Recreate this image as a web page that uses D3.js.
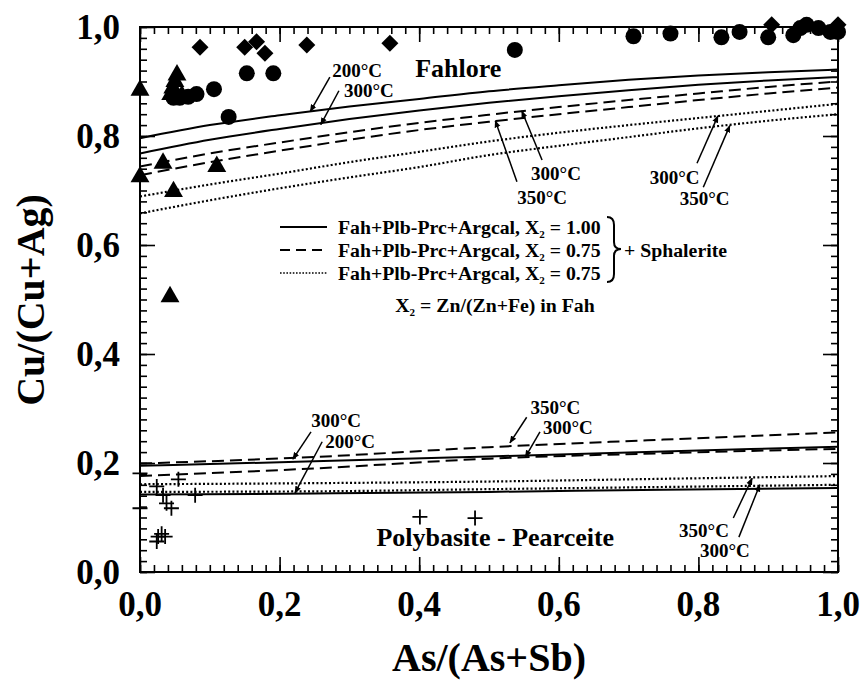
<!DOCTYPE html>
<html>
<head>
<meta charset="utf-8">
<script src="https://cdn.jsdelivr.net/npm/d3@7"></script>
<style>
  html, body { margin: 0; padding: 0; background: #fff; }
  svg { display: block; font-family: "Liberation Serif", "Times New Roman", serif; font-weight: bold; }
</style>
</head>
<body>
<svg id="chart" width="865" height="687"></svg>
<script>
// ---- data ----------------------------------------------------------------
const majorTicks = [0, 0.2, 0.4, 0.6, 0.8, 1.0];
const minorTicks = d3.range(0, 1.0001, 0.02);

// Fahlore compositions (x = As/(As+Sb), y = Cu/(Cu+Ag))
const diamondX = [0.086, 0.150, 0.167, 0.179, 0.239, 0.358, 0.905, 1.000];
const diamondY = [0.963, 0.963, 0.973, 0.952, 0.967, 0.970, 1.004, 1.004];

const circleX = [0.153, 0.191, 0.106, 0.081, 0.069, 0.057, 0.048, 0.127, 0.537,
                 0.707, 0.760, 0.833, 0.859, 0.900, 0.936, 0.946, 0.955, 0.972, 0.989, 1.000];
const circleY = [0.915, 0.915, 0.886, 0.877, 0.872, 0.870, 0.870, 0.835, 0.958,
                 0.983, 0.988, 0.981, 0.991, 0.981, 0.985, 0.998, 1.004, 0.998, 0.991, 0.991];

const triangleX = [0.000, 0.053, 0.050, 0.047, 0.044, 0.060, 0.033, 0.110, 0.000, 0.048, 0.043];
const triangleY = [0.884, 0.912, 0.900, 0.888, 0.876, 0.874, 0.750, 0.744, 0.725, 0.698, 0.505];

// Polybasite - pearceite compositions
const plusX = [0.024, 0.055, 0.033, 0.038, 0.045, 0.079, 0.026, 0.036, 0.024, 0.031, 0.000, 0.000, 0.401, 0.480];
const plusY = [0.157, 0.170, 0.141, 0.126, 0.117, 0.141, 0.065, 0.065, 0.056, 0.070, 0.181, 0.117, 0.101, 0.099];

// Calculated equilibrium curves, fahlore side
const fahX = [0, 0.1, 0.2, 0.3, 0.4, 0.5, 0.6, 0.7, 0.8, 0.9, 1.0];
const fahSolid200  = [0.796, 0.820, 0.838, 0.854, 0.868, 0.882, 0.893, 0.903, 0.911, 0.917, 0.922];
const fahSolid300  = [0.768, 0.793, 0.813, 0.831, 0.847, 0.861, 0.873, 0.884, 0.894, 0.902, 0.908];
const fahDashed300 = [0.744, 0.768, 0.788, 0.807, 0.824, 0.839, 0.853, 0.866, 0.878, 0.890, 0.900];
const fahDashed350 = [0.728, 0.752, 0.773, 0.793, 0.811, 0.826, 0.840, 0.853, 0.866, 0.878, 0.889];
const fahDotted300 = [0.689, 0.711, 0.731, 0.752, 0.771, 0.790, 0.806, 0.820, 0.833, 0.846, 0.859];
const fahDotted350 = [0.658, 0.682, 0.704, 0.724, 0.743, 0.765, 0.782, 0.798, 0.814, 0.828, 0.840];

// Calculated equilibrium curves, polybasite side
const plbX = [0, 0.25, 0.5, 0.75, 1.0];
const plbSolid300  = [0.195, 0.203, 0.212, 0.221, 0.230];
const plbSolid200  = [0.142, 0.144, 0.147, 0.151, 0.154];
const plbDashed350 = [0.199, 0.211, 0.229, 0.243, 0.256];
const plbDashed300 = [0.176, 0.190, 0.208, 0.218, 0.226];
const plbDotted350 = [0.161, 0.163, 0.166, 0.171, 0.176];
const plbDotted300 = [0.147, 0.148, 0.152, 0.156, 0.160];

// Temperature labels: text position and leader from (x1,y1) to (x2,y2)
const tempText = ["200°C", "300°C", "300°C", "350°C", "300°C", "350°C",
                  "300°C", "200°C", "350°C", "300°C", "350°C", "300°C"];
const tempTx = [0.311, 0.328, 0.596, 0.576, 0.766, 0.809, 0.281, 0.301, 0.595, 0.613, 0.808, 0.838];
const tempTy = [0.921, 0.884, 0.732, 0.688, 0.725, 0.686, 0.279, 0.239, 0.303, 0.266, 0.077, 0.040];
const tempX1 = [0.272, 0.285, 0.576, 0.540, 0.798, 0.807, 0.245, 0.261, 0.554, 0.573, 0.850, 0.858];
const tempY1 = [0.908, 0.883, 0.756, 0.716, 0.750, 0.706, 0.257, 0.239, 0.284, 0.257, 0.099, 0.064];
const tempX2 = [0.244, 0.259, 0.547, 0.509, 0.828, 0.845, 0.219, 0.222, 0.530, 0.552, 0.877, 0.888];
const tempY2 = [0.845, 0.821, 0.846, 0.828, 0.837, 0.819, 0.207, 0.145, 0.237, 0.211, 0.172, 0.160];

const legendLabels = ["1.00", "0.75", "0.75"];

// ---- layout ---------------------------------------------------------------
const svg = d3.select("#chart");
const x = d3.scaleLinear().domain([0, 1]).range([140, 838]);
const y = d3.scaleLinear().domain([0, 1]).range([572, 27]);
const fmt = d => d3.format(".1f")(d).replace(".", ",");

// ---- curves ---------------------------------------------------------------
const line = d3.line().x(d => x(d[0])).y(d => y(d[1])).curve(d3.curveMonotoneX);
const styles = {
  solid:  { dash: null,    w: 2 },
  dashed: { dash: "12,6",  w: 2 },
  dotted: { dash: "2,2.2", w: 2.2 }
};
const curves = [
  [fahX, fahSolid200, "solid"], [fahX, fahSolid300, "solid"],
  [fahX, fahDashed300, "dashed"], [fahX, fahDashed350, "dashed"],
  [fahX, fahDotted300, "dotted"], [fahX, fahDotted350, "dotted"],
  [plbX, plbSolid300, "solid"], [plbX, plbSolid200, "solid"],
  [plbX, plbDashed350, "dashed"], [plbX, plbDashed300, "dashed"],
  [plbX, plbDotted350, "dotted"], [plbX, plbDotted300, "dotted"]
];
svg.append("g").selectAll("path").data(curves).join("path")
  .attr("d", c => line(c[0].map((v, i) => [v, c[1][i]])))
  .attr("fill", "none").attr("stroke", "#000")
  .attr("stroke-width", c => styles[c[2]].w)
  .attr("stroke-dasharray", c => styles[c[2]].dash);

// ---- frame and ticks --------------------------------------------------------
function ticks(axisFn, scale, values, size) {
  return axisFn(scale).tickValues(values).tickSizeInner(-size).tickSizeOuter(0).tickFormat("");
}
const axes = [
  [d3.axisBottom, x, "translate(0,572)"],
  [d3.axisTop, x, "translate(0,27)"],
  [d3.axisLeft, y, "translate(140,0)"],
  [d3.axisRight, y, "translate(838,0)"]
];
axes.forEach(([fn, sc, tr]) => {
  const gMinor = svg.append("g").attr("transform", tr).call(ticks(fn, sc, minorTicks, 7));
  const gMajor = svg.append("g").attr("transform", tr).call(ticks(fn, sc, majorTicks, 15));
  [gMinor, gMajor].forEach(g => {
    g.select(".domain").remove();
    g.selectAll("line").attr("stroke", "#000").attr("stroke-width", 1.6);
  });
});
svg.append("rect").attr("x", x(0)).attr("y", y(1))
  .attr("width", x(1) - x(0)).attr("height", y(0) - y(1))
  .attr("fill", "none").attr("stroke", "#000").attr("stroke-width", 2);

// tick labels
svg.append("g").selectAll("text").data(majorTicks).join("text")
  .attr("x", d => x(d)).attr("y", 604).attr("dy", "0.35em")
  .attr("text-anchor", "middle").attr("font-size", 35).text(fmt);
svg.append("g").selectAll("text").data(majorTicks).join("text")
  .attr("x", 120).attr("y", d => y(d)).attr("dy", "0.35em")
  .attr("text-anchor", "end").attr("font-size", 35).text(fmt);

// axis titles
svg.append("text").attr("x", 489).attr("y", 657).attr("dy", "0.35em")
  .attr("text-anchor", "middle").attr("font-size", 40).text("As/(As+Sb)");
svg.append("text").attr("transform", "translate(30,300) rotate(-90)").attr("dy", "0.35em")
  .attr("text-anchor", "middle").attr("font-size", 40).text("Cu/(Cu+Ag)");

// ---- leaders and temperature labels ------------------------------------------
svg.append("defs").append("marker")
  .attr("id", "tip").attr("viewBox", "0 0 10 10").attr("refX", 9).attr("refY", 5)
  .attr("markerWidth", 5).attr("markerHeight", 5).attr("orient", "auto")
  .append("path").attr("d", "M0,1 L10,5 L0,9 Z").attr("fill", "#000");
const idx = d3.range(tempText.length);
svg.append("g").selectAll("line").data(idx).join("line")
  .attr("x1", i => x(tempX1[i])).attr("y1", i => y(tempY1[i]))
  .attr("x2", i => x(tempX2[i])).attr("y2", i => y(tempY2[i]))
  .attr("stroke", "#000").attr("stroke-width", 1.5).attr("marker-end", "url(#tip)");
svg.append("g").selectAll("text").data(idx).join("text")
  .attr("x", i => x(tempTx[i])).attr("y", i => y(tempTy[i])).attr("dy", "0.35em")
  .attr("text-anchor", "middle").attr("font-size", 19).text(i => tempText[i]);

// region labels
svg.append("text").attr("x", x(0.456)).attr("y", y(0.925)).attr("dy", "0.35em")
  .attr("text-anchor", "middle").attr("font-size", 26).text("Fahlore");
svg.append("text").attr("x", x(0.509)).attr("y", y(0.064)).attr("dy", "0.35em")
  .attr("text-anchor", "middle").attr("font-size", 26).text("Polybasite - Pearceite");

// ---- markers ---------------------------------------------------------------
const markers = svg.append("g");
markers.selectAll(".circ").data(circleX.map((v, i) => [v, circleY[i]])).join("circle")
  .attr("cx", d => x(d[0])).attr("cy", d => y(d[1])).attr("r", 8).attr("fill", "#000");
markers.selectAll(".dia").data(diamondX.map((v, i) => [v, diamondY[i]])).join("path")
  .attr("d", d3.symbol(d3.symbolSquare, 144))
  .attr("transform", d => `translate(${x(d[0])},${y(d[1])}) rotate(45)`).attr("fill", "#000");
markers.selectAll(".tri").data(triangleX.map((v, i) => [v, triangleY[i]])).join("path")
  .attr("d", d3.symbol(d3.symbolTriangle, 155))
  .attr("transform", d => `translate(${x(d[0])},${y(d[1])})`).attr("fill", "#000");
markers.selectAll(".plus").data(plusX.map((v, i) => [v, plusY[i]])).join("path")
  .attr("d", d => {
    const cx = x(d[0]), cy = y(d[1]), r = 7.5;
    return `M${cx - r},${cy}H${cx + r}M${cx},${cy - r}V${cy + r}`;
  })
  .attr("stroke", "#000").attr("stroke-width", 1.8).attr("fill", "none");

// ---- legend ---------------------------------------------------------------
const legend = svg.append("g");
const rowY = [227, 250, 273];
const rowStyle = ["solid", "dashed", "dotted"];
rowY.forEach((ry, i) => {
  legend.append("line").attr("x1", 280).attr("x2", 327).attr("y1", ry).attr("y2", ry)
    .attr("stroke", "#000")
    .attr("stroke-width", rowStyle[i] === "dotted" ? 1.6 : 2)
    .attr("stroke-dasharray", rowStyle[i] === "dashed" ? "10,6" : rowStyle[i] === "dotted" ? "1.6,1.6" : null);
  const t = legend.append("text").attr("x", 338).attr("y", ry).attr("dy", "0.35em").attr("font-size", 19.8);
  t.append("tspan").text("Fah+Plb-Prc+Argcal, X");
  t.append("tspan").attr("font-size", 11).attr("dy", 4).text("2");
  t.append("tspan").attr("dy", -4).text(" = " + legendLabels[i]);
});
legend.append("path")
  .attr("d", "M607,217 Q614,217 614,225 L614,242 Q614,249 621,249 Q614,249 614,256 L614,274 Q614,282 607,282")
  .attr("fill", "none").attr("stroke", "#000").attr("stroke-width", 2);
legend.append("text").attr("x", 624).attr("y", 250).attr("dy", "0.35em").attr("font-size", 19.8)
  .text("+ Sphalerite");
const def = legend.append("text").attr("x", 495).attr("y", 305).attr("dy", "0.35em")
  .attr("text-anchor", "middle").attr("font-size", 19.8);
def.append("tspan").text("X");
def.append("tspan").attr("font-size", 11).attr("dy", 4).text("2");
def.append("tspan").attr("dy", -4).text(" = Zn/(Zn+Fe) in Fah");
</script>
</body>
</html>
